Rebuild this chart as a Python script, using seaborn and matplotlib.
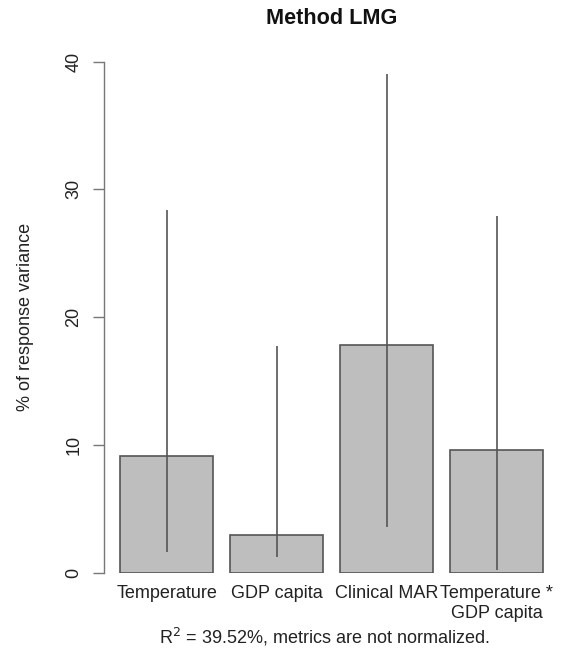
import matplotlib
matplotlib.use("Agg")
import matplotlib.pyplot as plt
import numpy as np
import pandas as pd
import seaborn as sns

# relative importance (LMG), % of response variance, with bootstrap CI
labels = ["Temperature", "GDP capita", "Clinical MAR", "Temperature *\nGDP capita"]
lmg = [9.1, 2.9, 17.8, 9.6]
ci_lower = [1.6, 1.2, 3.6, 0.2]
ci_upper = [28.4, 17.7, 39.0, 27.9]
yticks = [0, 10, 20, 30, 40]

df = pd.DataFrame({"term": labels, "lmg": lmg, "lo": ci_lower, "hi": ci_upper})

sns.set_style("white")
plt.rcParams["font.family"] = ["Liberation Sans", "DejaVu Sans"]
plt.rcParams["font.size"] = 13

fig = plt.figure(figsize=(5.70, 6.53), dpi=100)
ax = fig.add_axes([104 / 570, 1 - 572.5 / 653, 455.6 / 570, (572.5 - 41.3) / 653])

sns.barplot(data=df, x="term", y="lmg", color="#bebebe", saturation=1,
            edgecolor="#555555", linewidth=1.2, width=0.845, ax=ax)
ax.vlines(np.arange(len(df)), df["lo"], df["hi"], color="#555555", linewidth=1.2)

ax.set_xlim(-0.57, 3.57)
ax.set_ylim(0, 41.6)
ax.set_yticks(yticks)
ax.set_yticklabels([str(t) for t in yticks], rotation=90, va="center", color="#222222")
ax.tick_params(axis="y", left=True, length=7.6, width=1.0, color="#777777", pad=8)
ax.tick_params(axis="x", bottom=False, length=0, pad=9, labelcolor="#222222")

for s in ["top", "right", "bottom"]:
    ax.spines[s].set_visible(False)
ax.spines["left"].set_bounds(0, 40)
ax.spines["left"].set_color("#777777")
ax.spines["left"].set_linewidth(1.0)

ax.set_xlabel("")
ax.set_ylabel("")
fig.text(26 / 570, 1 - 317 / 653, "% of response variance", rotation=90,
         ha="center", va="center", fontsize=13, color="#222222")
fig.text(332 / 570, 1 - 18 / 653, "Method LMG", ha="center", va="center",
         fontsize=15.6, fontweight="bold", color="#111111")
fig.text(324 / 570, 1 - 637 / 653, r"R$^2$ = 39.52%, metrics are not normalized.",
         ha="center", va="center", fontsize=13, color="#222222")

fig.savefig("out.png", dpi=100)
